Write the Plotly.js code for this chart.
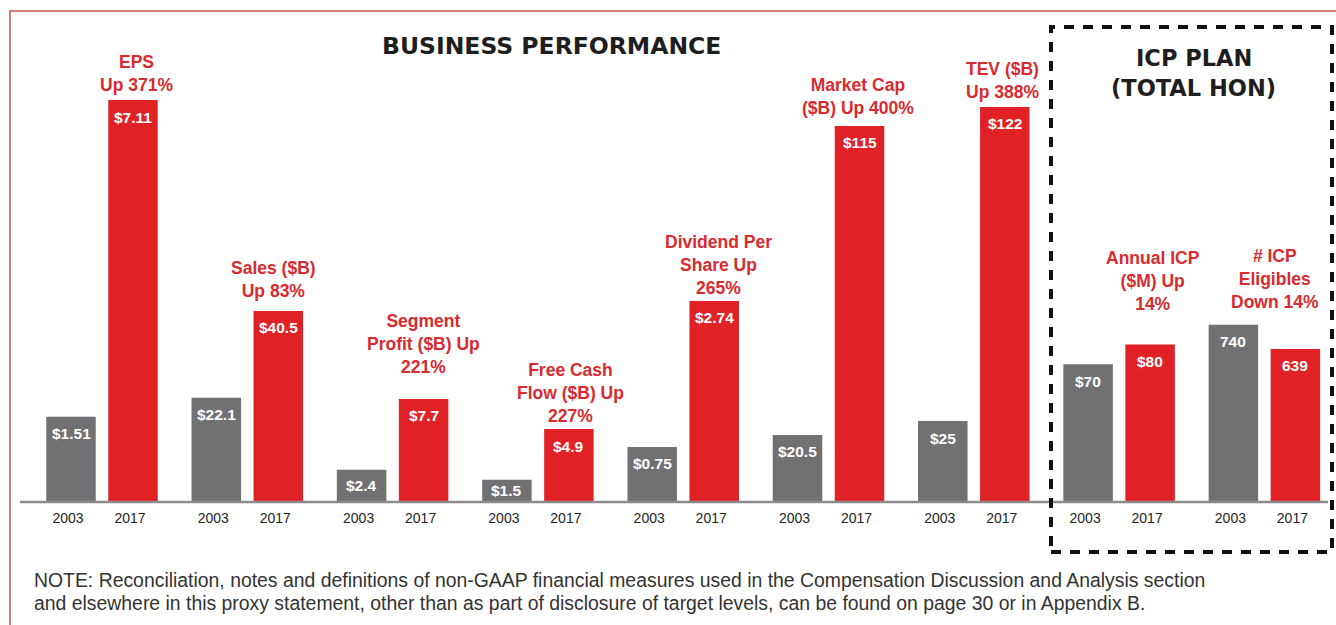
<!DOCTYPE html>
<html>
<head>
<meta charset="utf-8">
<script src="https://cdn.plot.ly/plotly-3.0.1.min.js"></script>
<style>html,body{margin:0;padding:0;background:#fff;}#chart{width:1336px;height:625px;}</style>
</head>
<body>
<div id="chart"></div>
<script>
// ---------------- DATA ----------------
const categories = ["EPS", "Sales ($B)", "Segment Profit ($B)", "Free Cash Flow ($B)", "Dividend Per Share", "Market Cap ($B)", "TEV ($B)", "Annual ICP ($M)", "# ICP Eligibles"];
const groupLabels = [
  "EPS<br>Up 371%",
  "Sales ($B)<br>Up 83%",
  "Segment<br>Profit ($B) Up<br>221%",
  "Free Cash<br>Flow ($B) Up<br>227%",
  "Dividend Per<br>Share Up<br>265%",
  "Market Cap<br>($B) Up 400%",
  "TEV ($B)<br>Up 388%",
  "Annual ICP<br>($M) Up<br>14%",
  "# ICP<br>Eligibles<br>Down 14%"
];
const years = ["2003", "2017"];
const values2003 = [1.51, 22.1, 2.4, 1.5, 0.75, 20.5, 25, 70, 740];
const values2017 = [7.11, 40.5, 7.7, 4.9, 2.74, 115, 122, 80, 639];
const valuePrefix = ["$", "$", "$", "$", "$", "$", "$", "$", ""];
const chartTitle = "BUSINESS PERFORMANCE";
const icpTitle = ["ICP PLAN", "(TOTAL HON)"];
const noteLines = [
  "NOTE: Reconciliation, notes and definitions of non-GAAP financial measures used in the Compensation Discussion and Analysis section",
  "and elsewhere in this proxy statement, other than as part of disclosure of target levels, can be found on page 30 or in Appendix B."
];

// ---------------- LAYOUT CONSTANTS ----------------
const W = 1336, H = 625, PLOT_H = 502;
const groupX0 = 71, groupStep = 145.3, pairGap = 62, barW = 49.5;
// each panel has its own independent value scale
const axisMax = [8.88, 106.4, 37.5, 33.7, 6.84, 153.5, 155, 255, 2096];
const labelGap = [15, 20, 32, 13, 13, 18, 15, 41, 23];
const labelDx = [3, -5, 0, 2, 4, -2, -2, 3, -20];
const GRAY = "#717174", RED = "#e02226", LABEL_RED = "#d92a2f";
const px = p => p / W;
const py = p => (PLOT_H - p) / PLOT_H;

const traces = [];
const annotations = [];
const tickvals = [], ticktext = [];
const layoutAxes = {};

categories.forEach((cat, i) => {
  const axName = i === 0 ? "y" : "y" + (i + 1);
  const axKey = i === 0 ? "yaxis" : "yaxis" + (i + 1);
  const xa = groupX0 + i * groupStep;
  const xb = xa + pairGap;
  const vals = [values2003[i], values2017[i]];
  traces.push({
    type: "bar", name: cat,
    x: [xa, xb], y: vals, width: [barW, barW],
    marker: {color: [GRAY, RED], line: {width: 0}},
    xaxis: "x", yaxis: axName,
    hoverinfo: "skip", showlegend: false
  });
  layoutAxes[axKey] = Object.assign({range: [0, axisMax[i]], visible: false, fixedrange: true},
    i === 0 ? {} : {overlaying: "y"});
  tickvals.push(xa, xb);
  ticktext.push(years[0], years[1]);
  // value labels inside bar tops
  [xa, xb].forEach((xx, k) => {
    const hpx = vals[k] / axisMax[i] * PLOT_H;
    annotations.push({
      x: xx, y: vals[k], xref: "x", yref: axName,
      text: valuePrefix[i] + vals[k], showarrow: false,
      xanchor: "center", yanchor: "middle",
      yshift: -Math.min(17, hpx / 2),
      font: {family: "Liberation Sans, Arial, sans-serif", size: 15.5, color: "#ffffff", weight: 700}
    });
  });
  // category label above taller bar
  annotations.push({
    x: xb + labelDx[i], y: Math.max(vals[0], vals[1]), xref: "x", yref: axName,
    text: groupLabels[i], showarrow: false,
    xanchor: "center", yanchor: "bottom", align: "center",
    yshift: labelGap[i] - 12,
    font: {family: "Liberation Sans, Arial, sans-serif", size: 17.5, color: LABEL_RED, weight: 700}
  });
});

// titles
annotations.push({
  x: px(551), y: py(46), xref: "paper", yref: "paper", text: chartTitle, showarrow: false,
  xanchor: "center", yanchor: "middle",
  font: {family: "DejaVu Sans, sans-serif", size: 23.5, color: "#1e1e1e", weight: 700}
});
annotations.push({
  x: px(1194), y: py(58), xref: "paper", yref: "paper", text: icpTitle[0], showarrow: false,
  xanchor: "center", yanchor: "middle",
  font: {family: "DejaVu Sans, sans-serif", size: 22.5, color: "#1e1e1e", weight: 700}
});
annotations.push({
  x: px(1193), y: py(88), xref: "paper", yref: "paper", text: icpTitle[1], showarrow: false,
  xanchor: "center", yanchor: "middle",
  font: {family: "DejaVu Sans, sans-serif", size: 22.5, color: "#1e1e1e", weight: 700}
});
// note
noteLines.forEach((t, k) => {
  annotations.push({
    x: px(32), y: py(580 + 23 * k), xref: "paper", yref: "paper", text: t, showarrow: false,
    xanchor: "left", yanchor: "middle", align: "left",
    font: {family: "Liberation Sans, Arial, sans-serif", size: 19.4, color: "#333333"}
  });
});

const shapes = [
  // outer thin red frame (top & left visible)
  {type: "rect", xref: "paper", yref: "paper", x0: px(10), x1: px(1350), y0: py(11), y1: py(640),
   line: {color: "#c25352", width: 1.5}, fillcolor: "rgba(0,0,0,0)", layer: "below"},
  // baseline
  {type: "line", xref: "paper", yref: "paper", x0: px(20), x1: px(1328), y0: 0, y1: 0,
   line: {color: "#8c8c8c", width: 2.5}, layer: "above"},
  // dashed ICP box
  {type: "rect", xref: "paper", yref: "paper", x0: px(1051), x1: px(1332), y0: py(552), y1: py(27),
   line: {color: "#111111", width: 4, dash: "10px,9px"}, fillcolor: "rgba(0,0,0,0)", layer: "above"}
];

const layout = Object.assign({
  width: W, height: H, autosize: false,
  margin: {l: 0, r: 0, t: 0, b: H - PLOT_H, pad: 0},
  paper_bgcolor: "#ffffff", plot_bgcolor: "#ffffff",
  barmode: "overlay", showlegend: false,
  xaxis: {
    range: [0, W], showgrid: false, zeroline: false, showline: false, fixedrange: true,
    tickmode: "array", tickvals: tickvals, ticktext: ticktext,
    ticks: "outside", ticklen: 3, tickcolor: "rgba(0,0,0,0)", ticklabelshift: -3,
    tickfont: {family: "Liberation Sans, Arial, sans-serif", size: 14, color: "#262626"}
  },
  annotations: annotations,
  shapes: shapes
}, layoutAxes);

Plotly.newPlot("chart", traces, layout, {displayModeBar: false, staticPlot: true});
</script>
</body>
</html>
